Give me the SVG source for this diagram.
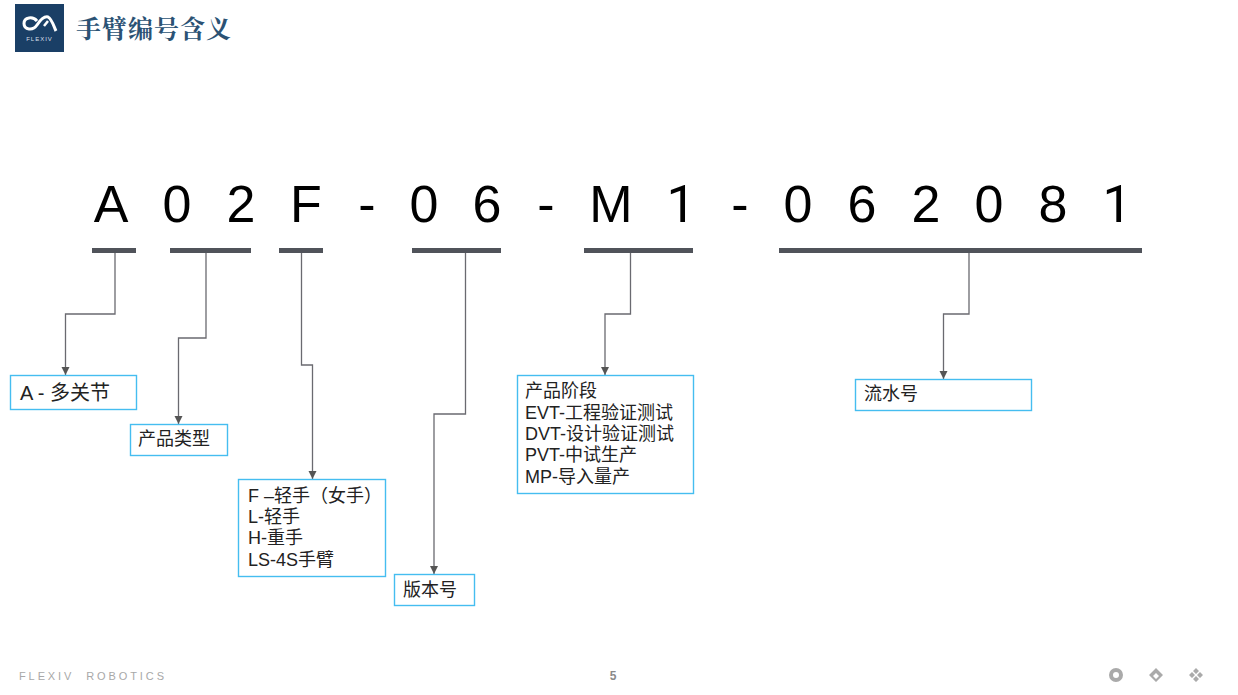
<svg xmlns="http://www.w3.org/2000/svg" width="1238" height="695" viewBox="0 0 1238 695">
<style>
.t{font-family:"Liberation Sans","Noto Sans CJK SC",sans-serif;fill:#222}
.s{font-size:18px}
.big{font-size:52px;font-family:"Liberation Sans",sans-serif;fill:#000;text-anchor:middle}
.one{font-family:Roboto,sans-serif}
.box{fill:#fff;stroke:#45bdf0;stroke-width:1.4}
.bar{fill:#50535a}
.c{fill:none;stroke:#6a6a70;stroke-width:1.3;marker-end:url(#a)}
</style>
<defs><marker id="a" markerUnits="userSpaceOnUse" markerWidth="9" markerHeight="9" refX="8" refY="4" orient="auto"><path d="M0 0L8 4L0 8Z" fill="#555"/></marker></defs>
<rect width="1238" height="695" fill="#fff"/>
<g id="logo">
<rect x="15" y="4" width="49" height="48" fill="#1a3f66"/>
<path d="M37 21C33 16 24 17 24 23.500C24 30 33 31 37 25C41 19 44 16 48 17C52 19 54 27 56 31" fill="none" stroke="#fff" stroke-width="3"/>
<path d="M44 26L48 21" fill="none" stroke="#fff" stroke-width="2.500"/>
<text x="39.500" y="41" font-size="6" letter-spacing="1" text-anchor="middle" font-family="Liberation Sans,sans-serif" fill="#d5dee8">FLEXIV</text>
</g>
<text id="title" x="76" y="38" font-size="25" letter-spacing="1" font-weight="700" font-family="Noto Serif CJK SC,Noto Sans CJK SC,serif" fill="#2b5274">手臂编号含义</text>
<g id="code">
<text class="big" x="111" y="222">A</text><text class="big" x="177" y="222">0</text><text class="big" x="241" y="222">2</text><text class="big" x="306" y="222">F</text><text class="big" x="367" y="222">-</text><text class="big" x="424" y="222">0</text><text class="big" x="487" y="222">6</text><text class="big" x="546" y="222">-</text><text class="big" x="611" y="222">M</text><text class="big one" x="681" y="222">1</text><text class="big" x="740" y="222">-</text><text class="big" x="798" y="222">0</text><text class="big" x="862" y="222">6</text><text class="big" x="926" y="222">2</text><text class="big" x="989" y="222">0</text><text class="big" x="1053" y="222">8</text><text class="big one" x="1117" y="222">1</text>
</g>
<g id="bars">
<rect class="bar" x="92" y="248" width="44" height="5"/><rect class="bar" x="170" y="248" width="81" height="5"/><rect class="bar" x="279" y="248" width="44" height="5"/><rect class="bar" x="412" y="248" width="89" height="5"/><rect class="bar" x="584" y="248" width="109" height="5"/><rect class="bar" x="779" y="248" width="363" height="5"/>
</g>
<g id="connectors">
<path class="c" d="M115 253V314H65.500V375"/>
<path class="c" d="M206 253V338H178.500V424"/>
<path class="c" d="M301.500 253V365H312.500V479"/>
<path class="c" d="M465.500 253V414H434V574"/>
<path class="c" d="M630.500 253V314H605V375"/>
<path class="c" d="M969 253V314H943.500V379"/>
</g>
<g id="n1"><rect class="box" x="10.500" y="375.500" width="126" height="34"/><text class="t" x="20" y="400" font-size="20">A - 多关节</text></g>
<g id="n2"><rect class="box" x="130.500" y="424.500" width="97" height="31"/><text class="t s" x="138" y="445">产品类型</text></g>
<g id="n3"><rect class="box" x="238.500" y="479.500" width="147" height="97"/><text class="t s"><tspan x="248" y="502">F –轻手（女手）</tspan><tspan x="248" y="523">L-轻手</tspan><tspan x="248" y="544">H-重手</tspan><tspan x="248" y="566">LS-4S手臂</tspan></text></g>
<g id="n4"><rect class="box" x="394.500" y="574.500" width="80" height="31"/><text class="t s" x="403" y="596">版本号</text></g>
<g id="n5"><rect class="box" x="517.500" y="375.500" width="176" height="118"/><text class="t s"><tspan x="525" y="397">产品阶段</tspan><tspan x="525" y="419">EVT-工程验证测试</tspan><tspan x="525" y="440">DVT-设计验证测试</tspan><tspan x="525" y="461">PVT-中试生产</tspan><tspan x="525" y="483">MP-导入量产</tspan></text></g>
<g id="n6"><rect class="box" x="855.500" y="379.500" width="176" height="31"/><text class="t s" x="864" y="400">流水号</text></g>
<g id="footer" fill="#a8a8a8" font-family="Liberation Sans,sans-serif">
<text x="19" y="680" font-size="11" letter-spacing="2.900" xml:space="preserve">FLEXIV  ROBOTICS</text>
<text x="613" y="680" font-size="12" font-weight="700" text-anchor="middle" fill="#8a8a8a">5</text>
<circle cx="1116" cy="675" r="5" fill="none" stroke="#aaa" stroke-width="4"/>
<path fill-rule="evenodd" d="M1156 668L1163 675L1156 682L1149 675ZM1156 673L1153 676L1156 679L1159 676Z" fill="#aaa"/>
<path d="M1196 668L1199 671L1196 674L1193 671ZM1196 676L1199 679L1196 682L1193 679ZM1192 672L1195 675L1192 678L1189 675ZM1200 672L1203 675L1200 678L1197 675Z" fill="#aaa"/>
</g>
</svg>
